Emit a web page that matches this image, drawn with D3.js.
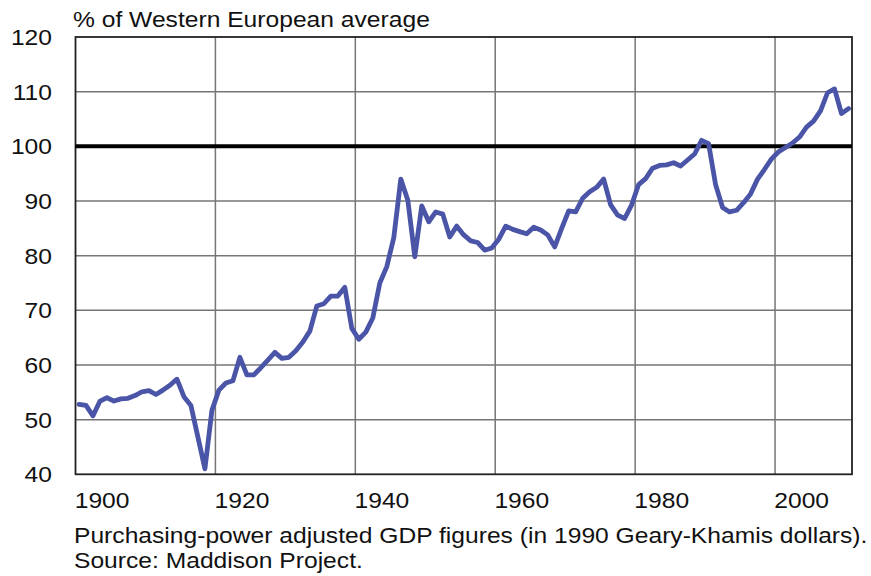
<!DOCTYPE html>
<html>
<head>
<meta charset="utf-8">
<script src="https://cdn.jsdelivr.net/npm/d3@7"></script>
<style>
  body { margin: 0; background: #fff; }
  text { font-family: "Liberation Sans", Arial, sans-serif; fill: #111; }
</style>
</head>
<body>
<div id="chart"></div>
<script>
// GDP per capita, % of Western European average, one value per year from 1900
const startYear = 1900
const values = [
  52.8, 52.6, 50.7, 53.4, 54.0, 53.4, 53.8, 53.9, 54.4, 55.1,
  55.3, 54.6, 55.4, 56.3, 57.4, 54.2, 52.6, 46.8, 41.0, 51.7,
  55.4, 56.7, 57.1, 61.4, 58.2, 58.2, 59.5, 60.9, 62.3, 61.2,
  61.4, 62.6, 64.2, 66.2, 70.8, 71.2, 72.6, 72.6, 74.2, 66.7,
  64.7, 66.0, 68.6, 75.0, 78.0, 83.3, 94.0, 90.2, 79.8, 89.1,
  86.2, 88.0, 87.6, 83.4, 85.4, 83.8, 82.7, 82.4, 81.0, 81.4,
  83.0, 85.4, 84.8, 84.4, 84.0, 85.2, 84.7, 83.8, 81.6, 85.0,
  88.2, 88.0, 90.5, 91.7, 92.5, 94.0, 89.3, 87.4, 86.8, 89.3,
  93.0, 94.1, 96.0, 96.5, 96.6, 97.0, 96.4, 97.5, 98.6, 101.1,
  100.5, 93.0, 88.8, 88.0, 88.3, 89.7, 91.3, 94.0, 95.8, 97.7,
  99.0, 99.8, 100.6, 101.7, 103.5, 104.6, 106.5, 109.8, 110.5, 106.0, 106.9
]
const xTicks = [1900, 1920, 1940, 1960, 1980, 2000]
const yTicks = [40, 50, 60, 70, 80, 90, 100, 110, 120]
const title = '% of Western European average'
const notes = [
  'Purchasing-power adjusted GDP figures (in 1990 Geary-Khamis dollars).',
  'Source: Maddison Project.'
]

const width = 871, height = 576
const fontSize = 22
const stretch = 1.12   // the source lettering is a bit wider than Liberation Sans

const svg = d3.select('#chart').append('svg')
  .attr('width', width)
  .attr('height', height)

const data = values.map((v, i) => ({ year: startYear + i, value: v }))

// category axis: each year takes one slot, point drawn mid-slot
const x = d3.scaleLinear().domain([1900, 2011]).range([75.5, 852])
const y = d3.scaleLinear().domain([40, 120]).range([474.3, 37])

const place = (px, py) => `translate(${px},${py}) scale(${stretch},1)`

// grid
svg.append('g')
  .selectAll('line')
  .data(yTicks.filter(t => t !== 100 && t !== 40 && t !== 120))
  .join('line')
  .attr('x1', x(1900)).attr('x2', x(2011))
  .attr('y1', d => y(d)).attr('y2', d => y(d))
  .attr('stroke', '#767676').attr('stroke-width', 1.5)

svg.append('g')
  .selectAll('line')
  .data(xTicks.filter(t => t !== 1900))
  .join('line')
  .attr('x1', d => x(d)).attr('x2', d => x(d))
  .attr('y1', y(120)).attr('y2', y(40))
  .attr('stroke', '#767676').attr('stroke-width', 1.5)

// frame
svg.append('rect')
  .attr('x', x(1900)).attr('y', y(120))
  .attr('width', x(2011) - x(1900)).attr('height', y(40) - y(120))
  .attr('fill', 'none').attr('stroke', '#222').attr('stroke-width', 1.8)

// 100% reference line
svg.append('line')
  .attr('x1', x(1900)).attr('x2', x(2011))
  .attr('y1', y(100)).attr('y2', y(100))
  .attr('stroke', '#000').attr('stroke-width', 4)

const line = d3.line()
  .x(d => x(d.year + 0.5))
  .y(d => y(d.value))

svg.append('path')
  .datum(data)
  .attr('d', line)
  .attr('fill', 'none')
  .attr('stroke', '#4b55a7')
  .attr('stroke-width', 4.8)
  .attr('stroke-linejoin', 'round')
  .attr('stroke-linecap', 'round')

// y labels
svg.append('g')
  .selectAll('text')
  .data(yTicks)
  .join('text')
  .attr('transform', d => place(52, y(d)))
  .attr('dy', '0.36em')
  .attr('text-anchor', 'end')
  .attr('font-size', fontSize)
  .text(d => d)

// x labels sit a little right of their grid line
svg.append('g')
  .selectAll('text')
  .data(xTicks)
  .join('text')
  .attr('transform', d => place(x(d + 3.8), 508))
  .attr('text-anchor', 'middle')
  .attr('font-size', fontSize)
  .text(d => d)

svg.append('text')
  .attr('transform', place(73, 27))
  .attr('font-size', fontSize)
  .text(title)

svg.selectAll('text.note')
  .data(notes)
  .join('text')
  .attr('class', 'note')
  .attr('transform', (d, i) => place(74, 543 + i * 25))
  .attr('font-size', fontSize)
  .text(d => d)
</script>
</body>
</html>
